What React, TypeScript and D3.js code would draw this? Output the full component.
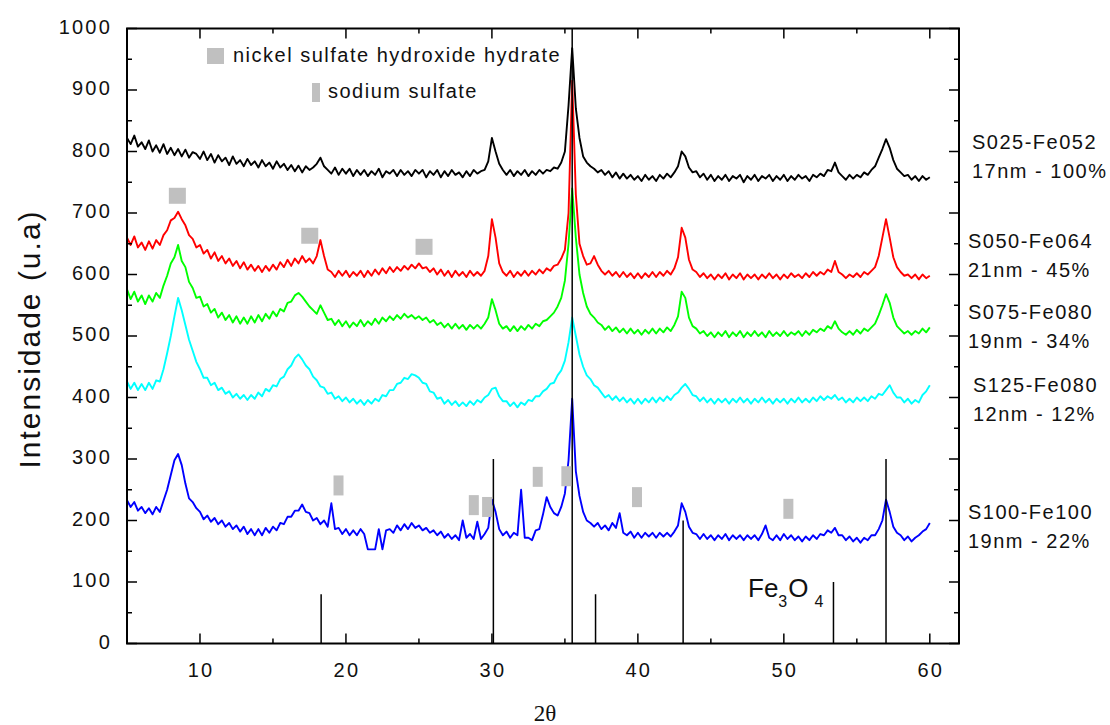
import React from 'react';
import * as d3 from 'd3';

// 2θ grid (step 0.25° from 5° to 60°)
const twoTheta: number[] = d3.range(221).map((i) => 5 + i * 0.25);

const s025Fe052 = [
  822, 812, 826, 808, 815, 804, 818, 800, 810, 798, 812, 796, 806, 794, 804, 792, 803, 790, 799, 796,
  788, 800, 786, 796, 782, 794, 784, 790, 778, 792, 780, 786, 776, 788, 778, 784, 774, 786, 776, 782,
  772, 784, 774, 780, 770, 778, 768, 777, 766, 776, 770, 774, 780, 790, 776, 770, 764, 774, 762, 772,
  764, 772, 760, 770, 762, 770, 760, 768, 762, 772, 758, 768, 764, 770, 760, 770, 762, 768, 760, 770,
  764, 770, 758, 768, 762, 770, 758, 768, 760, 770, 762, 766, 758, 768, 760, 770, 764, 768, 770, 784,
  822, 800, 780, 770, 762, 770, 760, 768, 762, 770, 760, 768, 762, 770, 764, 770, 768, 774, 772, 782,
  800, 875, 968, 870, 822, 792, 782, 776, 772, 766, 770, 762, 768, 758, 766, 756, 764, 756, 762, 754,
  760, 752, 762, 754, 760, 752, 762, 756, 764, 758, 766, 776, 800, 792, 774, 766, 768, 758, 764, 754,
  762, 752, 760, 754, 762, 752, 760, 756, 762, 750, 760, 754, 762, 752, 760, 756, 762, 752, 760, 754,
  762, 752, 760, 754, 762, 756, 760, 752, 762, 758, 764, 760, 770, 768, 782, 766, 760, 754, 762, 756,
  762, 758, 766, 762, 770, 776, 790, 804, 820, 806, 786, 772, 766, 760, 762, 754, 760, 752, 760, 754,
  758,
];

const s050Fe064 = [
  660, 648, 662, 644, 652, 640, 654, 642, 656, 648, 664, 672, 688, 692, 702, 690, 680, 664, 658, 644,
  648, 634, 640, 626, 636, 622, 630, 618, 626, 614, 622, 610, 620, 608, 616, 606, 614, 604, 614, 606,
  616, 608, 620, 612, 624, 614, 626, 618, 630, 620, 626, 618, 630, 656, 630, 608, 604, 596, 606, 598,
  606, 596, 604, 598, 606, 596, 606, 598, 608, 600, 610, 602, 612, 604, 612, 606, 614, 608, 616, 610,
  618, 610, 612, 604, 610, 600, 608, 598, 606, 596, 606, 598, 604, 596, 606, 598, 604, 598, 606, 630,
  690, 660, 618, 604, 598, 606, 596, 604, 598, 606, 598, 606, 600, 608, 602, 610, 606, 614, 616, 626,
  640, 700, 915, 730, 650, 630, 616, 618, 630, 616, 606, 600, 606, 598, 604, 596, 604, 596, 602, 594,
  602, 594, 602, 596, 604, 596, 604, 598, 606, 600, 610, 628, 676, 660, 624, 608, 604, 596, 602, 594,
  600, 592, 600, 594, 602, 592, 600, 594, 602, 592, 600, 594, 600, 592, 600, 594, 602, 594, 600, 592,
  600, 594, 602, 596, 600, 594, 602, 596, 604, 598, 604, 600, 608, 604, 622, 604, 600, 594, 600, 596,
  602, 596, 604, 600, 606, 612, 630, 660, 690, 660, 628, 612, 604, 598, 600, 594, 600, 592, 600, 594,
  598,
];

const s075Fe080 = [
  576, 560, 572, 556, 566, 552, 566, 556, 570, 562, 582, 598, 618, 628, 648, 622, 612, 588, 578, 562,
  564, 548, 552, 538, 544, 530, 538, 526, 534, 522, 532, 520, 530, 520, 532, 522, 534, 524, 536, 528,
  540, 532, 544, 540, 554, 556, 566, 570, 564, 556, 548, 542, 536, 550, 538, 526, 528, 518, 526, 516,
  524, 514, 522, 516, 526, 516, 524, 518, 528, 520, 530, 524, 532, 526, 534, 528, 536, 530, 534, 528,
  532, 526, 530, 522, 526, 518, 522, 514, 520, 512, 520, 512, 518, 510, 518, 512, 518, 512, 520, 530,
  560, 542, 520, 512, 516, 508, 516, 508, 516, 510, 518, 512, 520, 516, 524, 526, 532, 538, 548, 562,
  590, 650, 740, 660, 600, 570, 548, 536, 530, 522, 518, 510, 516, 508, 514, 506, 512, 504, 512, 504,
  510, 502, 510, 504, 512, 504, 512, 506, 514, 508, 518, 532, 572, 562, 530, 516, 512, 504, 508, 500,
  506, 498, 506, 500, 508, 498, 506, 500, 508, 498, 506, 500, 508, 500, 506, 498, 508, 500, 506, 500,
  508, 500, 506, 502, 508, 500, 508, 502, 510, 506, 512, 508, 516, 512, 524, 512, 506, 502, 508, 502,
  510, 504, 512, 508, 514, 520, 534, 550, 568, 554, 530, 516, 510, 504, 508, 502, 508, 504, 512, 506,
  514,
];

const s125Fe080 = [
  426, 414, 424, 412, 422, 412, 424, 414, 428, 426, 446, 472, 500, 532, 562, 542, 518, 494, 476, 458,
  446, 432, 432, 420, 424, 412, 416, 406, 410, 400, 406, 398, 404, 396, 404, 398, 408, 402, 414, 410,
  420, 418, 430, 434, 446, 452, 464, 470, 462, 452, 446, 434, 428, 418, 416, 406, 408, 398, 402, 394,
  400, 392, 398, 390, 396, 388, 396, 390, 398, 394, 404, 402, 412, 412, 422, 424, 432, 430, 438, 436,
  432, 424, 422, 410, 408, 398, 400, 390, 396, 388, 394, 386, 392, 386, 394, 388, 396, 392, 400, 404,
  414, 416, 402, 394, 394, 386, 392, 384, 392, 388, 396, 394, 402, 402, 410, 414, 422, 424, 436, 444,
  460, 490, 530, 500, 470, 450, 436, 430, 420, 416, 408, 400, 404, 396, 402, 394, 400, 392, 398, 390,
  398, 390, 398, 392, 400, 392, 400, 394, 402, 396, 404, 408, 416, 422, 414, 404, 402, 394, 400, 392,
  398, 390, 398, 392, 398, 390, 398, 392, 400, 392, 398, 390, 398, 392, 400, 392, 398, 390, 398, 392,
  398, 390, 398, 392, 400, 392, 398, 392, 400, 394, 402, 396, 402, 398, 404, 396, 400, 392, 398, 392,
  400, 394, 400, 394, 402, 398, 406, 404, 412, 420, 408, 400, 400, 392, 398, 390, 396, 392, 404, 410,
  420,
];

const s100Fe100 = [
  233, 222, 230, 216, 222, 212, 220, 210, 222, 214, 232, 250, 274, 298, 308, 290, 260, 236, 230, 220,
  214, 202, 208, 198, 204, 194, 200, 190, 196, 186, 192, 182, 190, 178, 186, 176, 186, 176, 188, 180,
  190, 184, 196, 194, 206, 206, 216, 216, 226, 214, 212, 200, 204, 194, 200, 190, 228, 186, 188, 178,
  186, 176, 184, 176, 186, 178, 153, 153, 153, 186, 153, 184, 186, 180, 192, 184, 194, 186, 196, 188,
  192, 184, 188, 180, 184, 176, 182, 172, 178, 170, 176, 168, 200, 172, 178, 170, 198, 170, 178, 188,
  234, 214, 186, 176, 182, 172, 180, 176, 250, 172, 172, 168, 184, 186, 210, 238, 222, 212, 208, 222,
  244, 298, 398, 280, 240, 214, 200, 196, 190, 196, 186, 192, 184, 196, 188, 212, 180, 176, 182, 172,
  180, 172, 180, 174, 180, 172, 180, 174, 180, 174, 182, 192, 228, 214, 190, 180, 178, 170, 178, 170,
  176, 168, 176, 170, 178, 168, 176, 170, 176, 168, 176, 170, 176, 168, 178, 192, 172, 168, 176, 168,
  178, 170, 176, 168, 174, 166, 174, 168, 176, 170, 178, 176, 184, 180, 188, 176, 176, 168, 174, 166,
  172, 164, 172, 168, 176, 176, 186, 200, 234, 214, 190, 180, 176, 168, 174, 166, 172, 176, 182, 186,
  196,
];

const seriesNames = ['S025-Fe052', 'S050-Fe064', 'S075-Fe080', 'S125-Fe080', 'S100-Fe100'];
const seriesSubs = ['17nm - 100%', '21nm - 45%', '19nm - 34%', '12nm - 12%', '19nm - 22%'];
const seriesColors = ['#000000', '#ff0000', '#00ff00', '#00ffff', '#0000ff'];
const seriesValues = [s025Fe052, s050Fe064, s075Fe080, s125Fe080, s100Fe100];
const labelPos = [
  [972, 149], [968, 248], [968, 319], [973, 392], [968, 519],
];

// Fe3O4 reference pattern: [2θ, intensity]
const fe3o4Sticks: [number, number][] = [
  [18.3, 80], [30.1, 300], [35.5, 1000], [37.1, 80], [43.1, 200], [53.4, 100], [57.0, 300],
];
// nickel sulfate hydroxide hydrate markers
const nickelMarks: [number, number][] = [[8.45, 728], [17.52, 663], [25.35, 645]];
// sodium sulfate markers
const sodiumMarks: [number, number][] = [
  [19.49, 257], [28.76, 225], [29.67, 222], [33.14, 271], [35.1, 272], [39.94, 238], [50.31, 219],
];

const xMajor = [10, 20, 30, 40, 50, 60];
const xMinor = [15, 25, 35, 45, 55];
const yMajor = [0, 100, 200, 300, 400, 500, 600, 700, 800, 900, 1000];
const yMinor = [50, 150, 250, 350, 450, 550, 650, 750, 850, 950];

const W = 1110;
const H = 725;
const L = 127, R = 959, T = 28.5, B = 643.5;
const FONT = '"Liberation Sans", Arial, sans-serif';
const GRAY = '#c0c0c0';

export default function App() {
  const x = d3.scaleLinear().domain([5, 62]).range([L, R]);
  const y = d3.scaleLinear().domain([0, 1000]).range([B, T]);
  const line = d3
    .line<number>()
    .x((_, i) => x(twoTheta[i]))
    .y((d) => y(d));

  const txt = { fontFamily: FONT, fontSize: 20, letterSpacing: '1.5px', fill: '#111' } as const;
  const tick = { fontFamily: FONT, fontSize: 20, letterSpacing: '2.2px', fill: '#111' } as const;

  return (
    <svg
      width={W}
      height={H}
      style={{ position: 'absolute', left: 0, top: 0, background: '#fff' }}
    >
      <defs>
        <clipPath id="plot">
          <rect x={L} y={T} width={R - L} height={B - T} />
        </clipPath>
      </defs>
      <g clipPath="url(#plot)">
        {seriesValues.map((vals, k) => (
          <path key={k} d={line(vals) || ''} fill="none" stroke={seriesColors[k]} strokeWidth={1.9} strokeLinejoin="round" />
        ))}
        {fe3o4Sticks.map(([a, b], i) => (
          <line key={i} x1={x(a)} x2={x(a)} y1={y(0)} y2={y(b)} stroke="#000" strokeWidth={1.5} />
        ))}
        {nickelMarks.map(([a, b], i) => (
          <rect key={i} x={x(a) - 8.5} y={y(b) - 8} width={17} height={16} fill={GRAY} />
        ))}
        {sodiumMarks.map(([a, b], i) => (
          <rect key={i} x={x(a) - 5} y={y(b) - 10} width={10} height={20} fill={GRAY} />
        ))}
      </g>

      {/* frame */}
      <rect x={L} y={T} width={R - L} height={B - T} fill="none" stroke="#000" strokeWidth={2} />

      {/* ticks */}
      {xMajor.map((v) => (
        <g key={'xm' + v}>
          <line x1={x(v)} x2={x(v)} y1={B} y2={B - 10} stroke="#000" strokeWidth={1.5} />
          <line x1={x(v)} x2={x(v)} y1={T} y2={T + 10} stroke="#000" strokeWidth={1.5} />
          <text x={x(v) + 1} y={B + 33} textAnchor="middle" style={{ ...tick }}>{v}</text>
        </g>
      ))}
      {xMinor.map((v) => (
        <g key={'xn' + v}>
          <line x1={x(v)} x2={x(v)} y1={B} y2={B - 5} stroke="#000" strokeWidth={1.5} />
          <line x1={x(v)} x2={x(v)} y1={T} y2={T + 5} stroke="#000" strokeWidth={1.5} />
        </g>
      ))}
      {yMajor.map((v) => (
        <g key={'ym' + v}>
          <line x1={L} x2={L + 10} y1={y(v)} y2={y(v)} stroke="#000" strokeWidth={1.5} />
          <line x1={R} x2={R - 10} y1={y(v)} y2={y(v)} stroke="#000" strokeWidth={1.5} />
          <text x={112} y={y(v) + 5} textAnchor="end" style={{ ...tick }}>{v}</text>
        </g>
      ))}
      {yMinor.map((v) => (
        <g key={'yn' + v}>
          <line x1={L} x2={L + 5} y1={y(v)} y2={y(v)} stroke="#000" strokeWidth={1.5} />
          <line x1={R} x2={R - 5} y1={y(v)} y2={y(v)} stroke="#000" strokeWidth={1.5} />
        </g>
      ))}

      {/* axis titles */}
      <text
        transform="translate(40,339) rotate(-90)"
        textAnchor="middle"
        style={{ fontFamily: FONT, fontSize: 30, letterSpacing: '2px', fill: '#111' }}
      >
        Intensidade (u.a)
      </text>
      <text x={545} y={721} textAnchor="middle" style={{ fontFamily: '"Liberation Serif", serif', fontSize: 23, fill: '#111' }}>
        2θ
      </text>

      {/* legend */}
      <rect x={207} y={48} width={17} height={16} fill={GRAY} />
      <text x={233} y={62} style={{ ...txt }}>nickel sulfate hydroxide hydrate</text>
      <rect x={312} y={83} width={8} height={19} fill={GRAY} />
      <text x={328} y={98} style={{ ...txt }}>sodium sulfate</text>

      {/* series labels */}
      {seriesNames.map((n, k) => (
        <g key={n}>
          <text x={labelPos[k][0]} y={labelPos[k][1]} style={{ ...txt }}>{n}</text>
          <text x={labelPos[k][0]} y={labelPos[k][1] + 29} style={{ ...txt }}>{seriesSubs[k]}</text>
        </g>
      ))}

      {/* Fe3O4 label */}
      <text x={748} y={597} style={{ fontFamily: FONT, fontSize: 26, fill: '#111' }}>
        Fe
        <tspan fontSize={16} dy={10}>3</tspan>
        <tspan dy={-10} dx={1}>O</tspan>
        <tspan fontSize={16} dy={10} dx={6}>4</tspan>
      </text>
    </svg>
  );
}
